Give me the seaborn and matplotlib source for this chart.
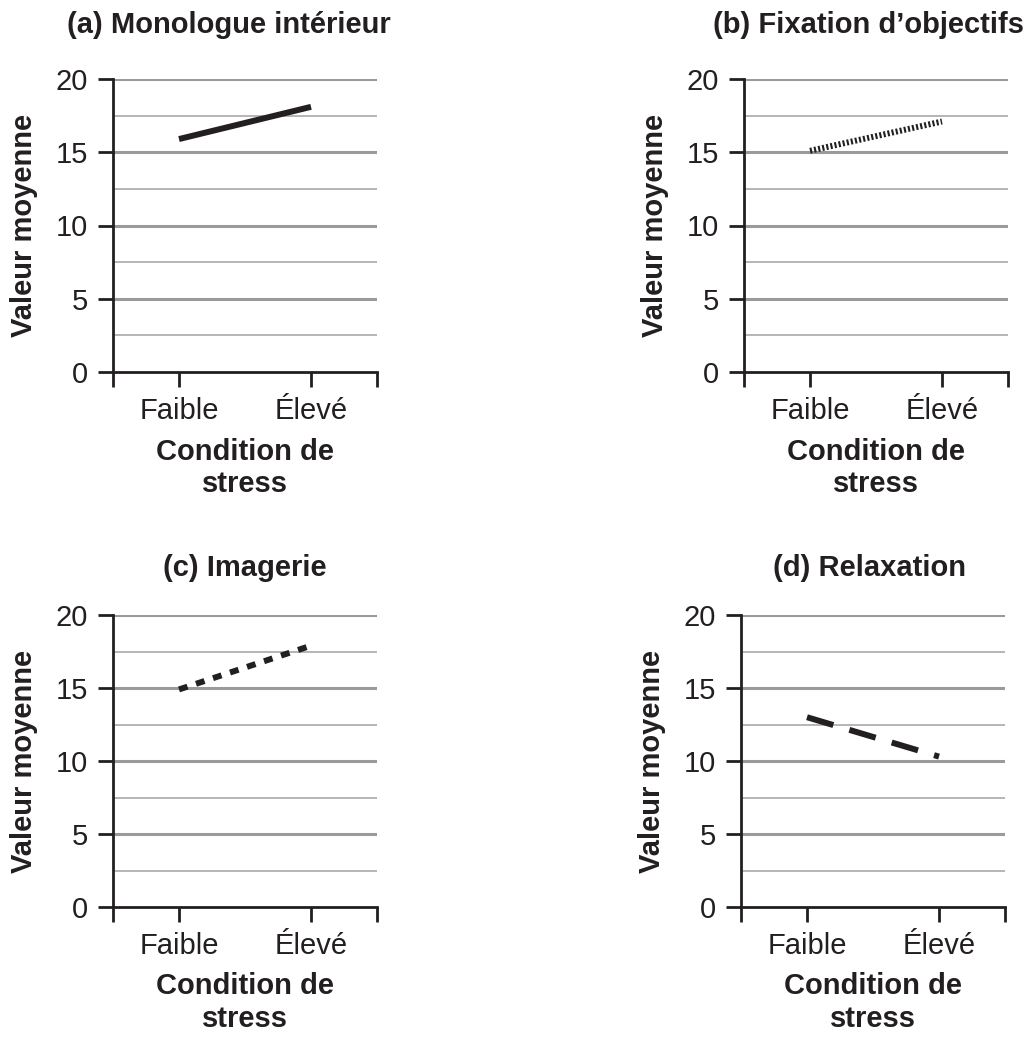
import matplotlib
matplotlib.use("Agg")
import matplotlib.pyplot as plt
import seaborn as sns
import pandas as pd
import numpy as np

# ---- data ----
categories = ["Faible", "Élevé"]
titles = ["(a) Monologue intérieur", "(b) Fixation d’objectifs", "(c) Imagerie", "(d) Relaxation"]
values_a = [15.9, 18.1]
values_b = [15.1, 17.1]
values_c = [14.9, 17.9]
values_d = [13.0, 10.3]
y_ticks = [0, 5, 10, 15, 20]
y_minor = [2.5, 7.5, 12.5, 17.5]
xlabel = "Condition de\nstress"
ylabel = "Valeur moyenne"

sns.set_theme(style="white")
plt.rcParams['font.family'] = ['Liberation Sans', 'DejaVu Sans']

INK = "#231f20"
fig = plt.figure(figsize=(10.29, 10.37), dpi=100)
W, H = 1029, 1037

def ax_at(l, t, r, b):
    return fig.add_axes([l / W, 1 - b / H, (r - l) / W, (b - t) / H])

axes = [ax_at(113, 79, 377, 372), ax_at(744, 79, 1008, 372),
        ax_at(113, 615, 377, 907), ax_at(741, 615, 1005, 907)]
series = [values_a, values_b, values_c, values_d]
dash_styles = [None, (0.35, 0.35), (1.5, 1.5), (4.6, 2.8)]
title_x = [0.44, 0.47, 0.5, 0.485]
title_pad = [33, 33, 28, 28]

for ax, vals, dsh, ttl, tx, tp in zip(axes, series, dash_styles, titles, title_x, title_pad):
    df = pd.DataFrame({"x": np.arange(len(categories)), "y": vals})
    sns.lineplot(data=df, x="x", y="y", ax=ax, color=INK, linewidth=4.3, zorder=5)
    ln = ax.lines[-1]
    ln.set_solid_capstyle("butt")
    ln.set_dash_capstyle("butt")
    if dsh is not None:
        ln.set_dashes(dsh)
    ax.set_xlim(-0.5, len(categories) - 0.5)
    ax.set_ylim(0, 20)
    for yv in y_ticks[1:]:
        ax.axhline(yv, color="#9a9a9a", linewidth=2.2, zorder=1)
    for yv in y_minor:
        ax.axhline(yv, color="#b0b0b0", linewidth=1.3, zorder=1)
    ax.set_yticks(y_ticks)
    ax.set_xticks([-0.5, 0, 1, 1.5])
    ax.set_xticklabels([""] + categories + [""])
    ax.tick_params(axis="both", direction="out", length=11, width=2, color=INK,
                   labelsize=21, labelcolor=INK, pad=7, left=True, bottom=True)
    for s in ["top", "right"]:
        ax.spines[s].set_visible(False)
    for s in ["left", "bottom"]:
        ax.spines[s].set_color(INK)
        ax.spines[s].set_linewidth(2)
        ax.spines[s].set_zorder(6)
    ax.set_xlabel(xlabel, fontsize=21, fontweight="bold", color=INK, labelpad=9)
    ax.set_ylabel(ylabel, fontsize=21, fontweight="bold", color=INK, labelpad=13)
    ax.set_title(ttl, fontsize=21, fontweight="bold", color=INK, x=tx, pad=tp)
    ax.grid(False)

fig.savefig("out.png", dpi=100, facecolor="white")
